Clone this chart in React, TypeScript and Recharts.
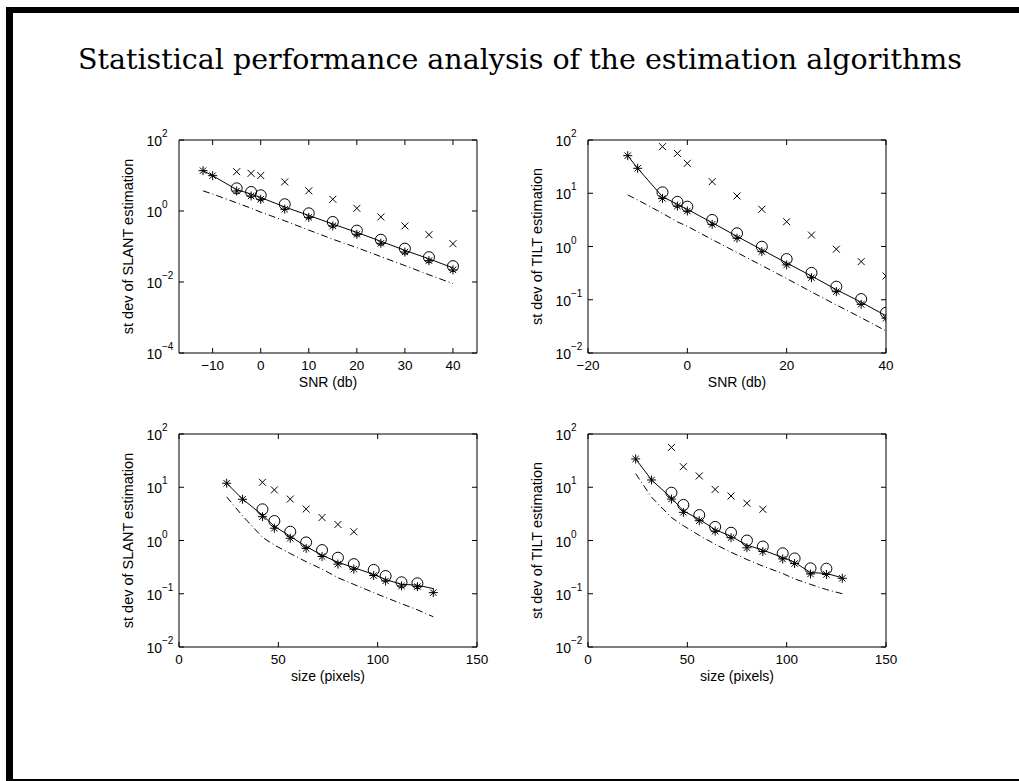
import React from 'react'
import { ScatterChart, Scatter, XAxis, YAxis, ReferenceArea } from 'recharts'

// x positions
const snrLineX = [-12, -10, -5, -2, 0, 5, 10, 15, 20, 25, 30, 35, 40]
const snrX = [-5, -2, 0, 5, 10, 15, 20, 25, 30, 35, 40]
const sizeLineX = [24, 32, 42, 48, 56, 64, 72, 80, 88, 98, 104, 112, 120, 128]
const sizeCircleX = [42, 48, 56, 64, 72, 80, 88, 98, 104, 112, 120]
const sizeCrossX = [42, 48, 56, 64, 72, 80, 88]

// SLANT vs SNR
const slantSnrStar = [13.7, 9.9, 3.66, 2.65, 2.13, 1.12, 0.66, 0.38, 0.22, 0.123, 0.07, 0.04, 0.022]
const slantSnrCircle = [4.35, 3.43, 2.77, 1.55, 0.86, 0.49, 0.28, 0.155, 0.087, 0.05, 0.028]
const slantSnrCross = [12.8, 11.5, 10, 6.6, 3.7, 2.14, 1.19, 0.68, 0.38, 0.215, 0.12]
const slantSnrMean = [13.7, 9.9, 4.0, 3.0, 2.4, 1.3, 0.75, 0.43, 0.25, 0.14, 0.078, 0.045, 0.025]
const slantSnrBound = [3.7, 3.0, 1.7, 1.2, 0.93, 0.53, 0.29, 0.16, 0.093, 0.052, 0.029, 0.016, 0.009]

// TILT vs SNR
const tiltSnrStar = [50.8, 29.4, 8.0, 5.75, 4.64, 2.61, 1.43, 0.8, 0.45, 0.26, 0.142, 0.082, 0.045]
const tiltSnrCircle = [10.4, 6.9, 5.6, 3.15, 1.77, 0.99, 0.58, 0.32, 0.176, 0.103, 0.057]
const tiltSnrCross = [75, 56, 36.5, 16.5, 8.9, 5.0, 2.92, 1.64, 0.89, 0.52, 0.28]
const tiltSnrMean = [50.8, 29.4, 8.6, 6.2, 5.0, 2.8, 1.55, 0.87, 0.49, 0.28, 0.155, 0.09, 0.05]
const tiltSnrBound = [9.3, 7.5, 4.2, 2.9, 2.4, 1.35, 0.77, 0.44, 0.25, 0.14, 0.08, 0.046, 0.026]

// SLANT vs size
const slantSizeStar = [11.9, 5.95, 2.8, 1.7, 1.1, 0.71, 0.5, 0.36, 0.29, 0.22, 0.174, 0.14, 0.136, 0.105]
const slantSizeCircle = [3.85, 2.32, 1.46, 0.92, 0.66, 0.475, 0.36, 0.28, 0.215, 0.164, 0.157]
const slantSizeCross = [12.4, 8.9, 6.0, 3.9, 2.7, 2.0, 1.46]
const slantSizeMean = [11.9, 6.0, 3.0, 1.85, 1.2, 0.77, 0.53, 0.39, 0.31, 0.23, 0.185, 0.15, 0.145, 0.125]
const slantSizeBound = [6.6, 2.9, 1.15, 0.82, 0.57, 0.4, 0.29, 0.2, 0.15, 0.105, 0.085, 0.065, 0.05, 0.037]

// TILT vs size
const tiltSizeStar = [34, 13.7, 6.0, 3.38, 2.35, 1.5, 1.13, 0.73, 0.62, 0.45, 0.37, 0.235, 0.23, 0.195]
const tiltSizeCircle = [7.9, 4.65, 3.0, 1.8, 1.4, 1.0, 0.77, 0.575, 0.46, 0.3, 0.295]
const tiltSizeCross = [56, 24.3, 16.3, 9.1, 6.85, 5.0, 3.85]
const tiltSizeMean = [34, 13.7, 6.3, 3.6, 2.5, 1.6, 1.2, 0.82, 0.66, 0.48, 0.39, 0.25, 0.24, 0.2]
const tiltSizeBound = [18, 6.5, 2.7, 1.9, 1.25, 0.85, 0.6, 0.44, 0.33, 0.24, 0.19, 0.15, 0.12, 0.1]

const pts = (xs: number[], ys: number[]) => xs.map((x, i) => ({ x, y: ys[i] }))

// plot geometry inside each chart
const W = 400
const H = 290
const PL = 79
const PR = 377
const PT = 20
const PB = 233
const FONT = '"Liberation Sans", Arial, sans-serif'

const minus = (s: string) => s.replace('-', '\u2212')

const StarShape = (p: any) => {
  const { cx, cy } = p
  const r = 4.5
  const d = r * 0.707
  return (
    <g stroke="#000" strokeWidth={1}>
      <line x1={cx - r} y1={cy} x2={cx + r} y2={cy} />
      <line x1={cx} y1={cy - r} x2={cx} y2={cy + r} />
      <line x1={cx - d} y1={cy - d} x2={cx + d} y2={cy + d} />
      <line x1={cx - d} y1={cy + d} x2={cx + d} y2={cy - d} />
    </g>
  )
}

const CircleShape = (p: any) => <circle cx={p.cx} cy={p.cy} r={5.5} fill="none" stroke="#000" strokeWidth={1} />

const CrossShape = (p: any) => {
  const { cx, cy } = p
  const r = 3.5
  return (
    <g stroke="#000" strokeWidth={1}>
      <line x1={cx - r} y1={cy - r} x2={cx + r} y2={cy + r} />
      <line x1={cx - r} y1={cy + r} x2={cx + r} y2={cy - r} />
    </g>
  )
}

const NoShape = () => <g />

const XTick = (p: any) => {
  const { x, payload } = p
  return (
    <g>
      <line x1={x} x2={x} y1={PB} y2={PB - 5} stroke="#000" />
      <line x1={x} x2={x} y1={PT} y2={PT + 5} stroke="#000" />
      <text x={x} y={PB + 17} textAnchor="middle" fontSize={13.5} fontFamily={FONT} fill="#000">
        {minus(String(payload.value))}
      </text>
    </g>
  )
}

const YTick = (p: any) => {
  const { y, payload } = p
  const e = Math.round(Math.log10(payload.value))
  return (
    <g>
      <line x1={PL} x2={PL + 5} y1={y} y2={y} stroke="#000" />
      <line x1={PR} x2={PR - 5} y1={y} y2={y} stroke="#000" />
      <text x={PL - 17} y={y + 6} textAnchor="end" fontSize={14} fontFamily={FONT} fill="#000">10</text>
      <text x={PL - 17} y={y - 3} textAnchor="start" fontSize={10} fontFamily={FONT} fill="#000">
        {minus(String(e))}
      </text>
    </g>
  )
}

interface PanelProps {
  left: number
  top: number
  xDomain: [number, number]
  xTicks: number[]
  yDomain: [number, number]
  yTicks: number[]
  xLabel: string
  yLabel: string
  lineX: number[]
  markX: number[]
  crossX: number[]
  star: number[]
  circle: number[]
  cross: number[]
  mean: number[]
  bound: number[]
}

function Panel(props: PanelProps) {
  const { left, top, xDomain, xTicks, yDomain, yTicks, xLabel, yLabel } = props
  return (
    <div style={{ position: 'absolute', left, top, width: W, height: H }}>
      <ScatterChart width={W} height={H} margin={{ top: PT, right: W - PR, bottom: 17, left: PL - 50 }}>
        <XAxis
          dataKey="x"
          type="number"
          domain={xDomain}
          ticks={xTicks}
          allowDataOverflow
          axisLine={false}
          tickLine={false}
          height={40}
          tick={XTick}
          label={{
            content: () => (
              <text x={(PL + PR) / 2} y={PB + 34} textAnchor="middle" fontSize={14} fontFamily={FONT} fill="#000">
                {xLabel}
              </text>
            )
          }}
        />
        <YAxis
          dataKey="y"
          type="number"
          scale="log"
          domain={yDomain}
          ticks={yTicks}
          allowDataOverflow
          axisLine={false}
          tickLine={false}
          width={50}
          tick={YTick}
          label={{
            content: () => (
              <text
                x={33}
                y={(PT + PB) / 2}
                transform={`rotate(-90 33 ${(PT + PB) / 2})`}
                textAnchor="middle"
                fontSize={14.5}
                fontFamily={FONT}
                fill="#000"
              >
                {yLabel}
              </text>
            )
          }}
        />
        <ReferenceArea x1={xDomain[0]} x2={xDomain[1]} y1={yDomain[0]} y2={yDomain[1]} fill="none" stroke="#000" strokeWidth={1} fillOpacity={0} />
        <Scatter data={pts(props.lineX, props.bound)} shape={NoShape} line={{ stroke: '#000', strokeWidth: 1, strokeDasharray: '7 3 1 3' }} lineType="joint" isAnimationActive={false} />
        <Scatter data={pts(props.lineX, props.mean)} shape={NoShape} line={{ stroke: '#000', strokeWidth: 1 }} lineType="joint" isAnimationActive={false} />
        <Scatter data={pts(props.crossX, props.cross)} shape={CrossShape} isAnimationActive={false} />
        <Scatter data={pts(props.markX, props.circle)} shape={CircleShape} isAnimationActive={false} />
        <Scatter data={pts(props.lineX, props.star)} shape={StarShape} isAnimationActive={false} />
      </ScatterChart>
    </div>
  )
}

export default function App() {
  return (
    <div style={{ position: 'absolute', left: 0, top: 0, width: 1019, height: 781, background: '#fff', overflow: 'hidden' }}>
      <div style={{ position: 'absolute', left: 6, top: 7, width: 1013, height: 6, background: '#000' }} />
      <div style={{ position: 'absolute', left: 6, top: 7, width: 7, height: 774, background: '#000' }} />
      <div style={{ position: 'absolute', left: 6, top: 779, width: 1013, height: 2, background: '#000' }} />
      <svg style={{ position: 'absolute', left: 0, top: 0 }} width={1019} height={100}>
        <text x={78} y={69} fontSize={28} fontFamily='"DejaVu Serif", "Liberation Serif", serif' textLength={884} lengthAdjust="spacingAndGlyphs" fill="#000">
          Statistical performance analysis of the estimation algorithms
        </text>
      </svg>
      <Panel
        left={100}
        top={120}
        xDomain={[-17, 45]}
        xTicks={[-10, 0, 10, 20, 30, 40]}
        yDomain={[1e-4, 100]}
        yTicks={[1e-4, 1e-2, 1, 100]}
        xLabel="SNR (db)"
        yLabel="st dev of SLANT estimation"
        lineX={snrLineX}
        markX={snrX}
        crossX={snrX}
        star={slantSnrStar}
        circle={slantSnrCircle}
        cross={slantSnrCross}
        mean={slantSnrMean}
        bound={slantSnrBound}
      />
      <Panel
        left={509}
        top={120}
        xDomain={[-20, 40]}
        xTicks={[-20, 0, 20, 40]}
        yDomain={[1e-2, 100]}
        yTicks={[1e-2, 1e-1, 1, 10, 100]}
        xLabel="SNR (db)"
        yLabel="st dev of TILT estimation"
        lineX={snrLineX}
        markX={snrX}
        crossX={snrX}
        star={tiltSnrStar}
        circle={tiltSnrCircle}
        cross={tiltSnrCross}
        mean={tiltSnrMean}
        bound={tiltSnrBound}
      />
      <Panel
        left={100}
        top={414}
        xDomain={[0, 150]}
        xTicks={[0, 50, 100, 150]}
        yDomain={[1e-2, 100]}
        yTicks={[1e-2, 1e-1, 1, 10, 100]}
        xLabel="size (pixels)"
        yLabel="st dev of SLANT estimation"
        lineX={sizeLineX}
        markX={sizeCircleX}
        crossX={sizeCrossX}
        star={slantSizeStar}
        circle={slantSizeCircle}
        cross={slantSizeCross}
        mean={slantSizeMean}
        bound={slantSizeBound}
      />
      <Panel
        left={509}
        top={414}
        xDomain={[0, 150]}
        xTicks={[0, 50, 100, 150]}
        yDomain={[1e-2, 100]}
        yTicks={[1e-2, 1e-1, 1, 10, 100]}
        xLabel="size (pixels)"
        yLabel="st dev of TILT estimation"
        lineX={sizeLineX}
        markX={sizeCircleX}
        crossX={sizeCrossX}
        star={tiltSizeStar}
        circle={tiltSizeCircle}
        cross={tiltSizeCross}
        mean={tiltSizeMean}
        bound={tiltSizeBound}
      />
    </div>
  )
}
